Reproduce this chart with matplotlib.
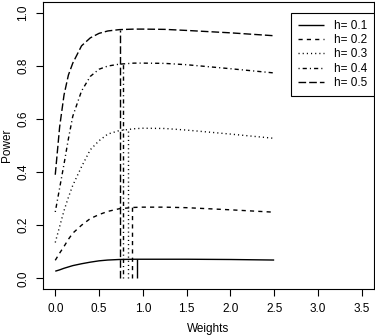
import matplotlib
matplotlib.use("Agg")
import matplotlib.pyplot as plt

plt.rcParams['font.family'] = ['Liberation Sans', 'DejaVu Sans']

# power curves
weights = [0, 0.05, 0.1, 0.15, 0.2, 0.3, 0.4, 0.5, 0.6, 0.73, 0.9, 1.0, 1.25, 1.5, 2.0, 2.5]
p_h1 = [0.027, 0.032, 0.038, 0.043, 0.048, 0.055, 0.061, 0.066, 0.069, 0.071, 0.072, 0.072, 0.072, 0.072, 0.071, 0.069]
p_h2 = [0.068, 0.095, 0.12, 0.147, 0.17, 0.20, 0.225, 0.24, 0.252, 0.262, 0.267, 0.268, 0.268, 0.266, 0.258, 0.249]
p_h3 = [0.135, 0.195, 0.255, 0.305, 0.35, 0.42, 0.484, 0.518, 0.543, 0.556, 0.563, 0.565, 0.564, 0.558, 0.543, 0.527]
p_h4 = [0.25, 0.34, 0.43, 0.525, 0.61, 0.705, 0.76, 0.787, 0.799, 0.806, 0.81, 0.81, 0.809, 0.804, 0.789, 0.773]
p_h5 = [0.39, 0.57, 0.69, 0.765, 0.81, 0.875, 0.905, 0.922, 0.931, 0.936, 0.938, 0.938, 0.937, 0.933, 0.924, 0.913]

labels = ['h= 0.1', 'h= 0.2', 'h= 0.3', 'h= 0.4', 'h= 0.5']
# optimal weight and power there (vertical markers)
opt_w = [0.935, 0.88, 0.825, 0.77, 0.735]
opt_p = [0.072, 0.267, 0.56, 0.808, 0.936]

styles = [(0, ()), (0, (3, 3)), (0, (0.8, 2.2)), (0, (0.8, 2.2, 3, 2.2)), (0, (5.5, 2.2))]

fig = plt.figure(figsize=(3.75, 3.36), dpi=100)
ax = fig.add_axes([43 / 375, 1 - 289 / 336, 331 / 375, 287 / 336])

for ys, lab, ls in zip([p_h1, p_h2, p_h3, p_h4, p_h5], labels, styles):
    ax.plot(weights, ys, color='black', lw=1, linestyle=ls, label=lab)

for w, p, ls in zip(opt_w, opt_p, styles):
    ax.vlines(w, 0, p, color='black', lw=1, linestyles=[ls])

ax.set_xlim(-0.14, 3.64)
ax.set_ylim(-0.04, 1.04)
ax.set_xticks([0, 0.5, 1.0, 1.5, 2.0, 2.5, 3.0, 3.5])
ax.set_xticklabels(['0.0', '0.5', '1.0', '1.5', '2.0', '2.5', '3.0', '3.5'])
ax.set_yticks([0, 0.2, 0.4, 0.6, 0.8, 1.0])
ax.set_yticklabels(['0.0', '0.2', '0.4', '0.6', '0.8', '1.0'], rotation=90, va='center')
ax.tick_params(direction='out', length=5, width=0.8, labelsize=8.5, pad=5)
for s in ax.spines.values():
    s.set_linewidth(0.8)

ax.set_xlabel('Weights', fontsize=8.5, labelpad=6)
ax.set_ylabel('Power', fontsize=8.5, labelpad=3)

leg = ax.legend(loc='upper right', bbox_to_anchor=(1.0, 1.04 / 1.08), borderaxespad=0,
                fancybox=False, edgecolor='black', framealpha=1, fontsize=8.5,
                handlelength=2.2, labelspacing=0.2, borderpad=0.6)
leg.get_frame().set_linewidth(0.8)

fig.savefig('out.png', dpi=100)
